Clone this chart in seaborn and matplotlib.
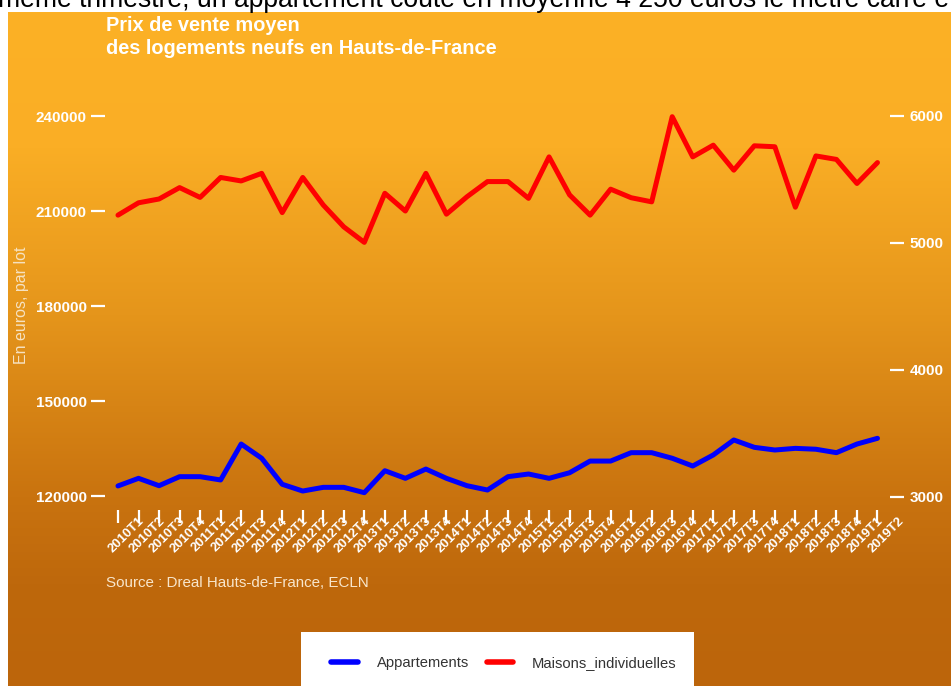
import matplotlib

matplotlib.use("Agg")
import matplotlib.pyplot as plt
import matplotlib.transforms as mtransforms
import numpy as np
import pandas as pd
import seaborn as sns
from matplotlib.colors import LinearSegmentedColormap
from matplotlib.lines import Line2D
from matplotlib.patches import Rectangle


QUARTERS = [
    "2010T1", "2010T2", "2010T3", "2010T4",
    "2011T1", "2011T2", "2011T3", "2011T4",
    "2012T1", "2012T2", "2012T3", "2012T4",
    "2013T1", "2013T2", "2013T3", "2013T4",
    "2014T1", "2014T2", "2014T3", "2014T4",
    "2015T1", "2015T2", "2015T3", "2015T4",
    "2016T1", "2016T2", "2016T3", "2016T4",
    "2017T1", "2017T2", "2017T3", "2017T4",
    "2018T1", "2018T2", "2018T3", "2018T4",
    "2019T1", "2019T2",
]

# prix par lot (axe gauche)
MAISONS = [
    208700, 212600, 213800, 217400, 214300, 220600, 219500, 221900,
    209500, 220600, 211900, 205000, 200100, 215600, 210000, 221900,
    209000, 214500, 219300, 219300, 214000, 227100, 215100, 208700,
    216900, 214200, 212900, 239800, 227100, 230800, 222900, 230600,
    230300, 211200, 227400, 226300, 218700, 225300,
]

# prix au m2 (axe droit)
APPARTEMENTS = [
    3087, 3147, 3089, 3160, 3160, 3134, 3417, 3305, 3100, 3047,
    3076, 3076, 3034, 3207, 3147, 3220, 3147, 3089, 3055, 3160,
    3181, 3147, 3191, 3283, 3283, 3349, 3349, 3305, 3244, 3331,
    3449, 3391, 3370, 3383, 3376, 3349, 3417, 3462,
]

LEFT_TICKS = [120000, 150000, 180000, 210000, 240000]
RIGHT_TICKS = [3000, 4000, 5000, 6000]

W, H = 951, 686


def main() -> None:
    sns.set_theme(style="white")
    plt.rcParams["font.family"] = ["Liberation Sans", "DejaVu Sans"]

    df = pd.DataFrame(
        {
            "idx": np.arange(len(QUARTERS)),
            "trimestre": QUARTERS,
            "Maisons_individuelles": MAISONS,
            "Appartements": APPARTEMENTS,
        }
    )

    fig = plt.figure(figsize=(W / 100, H / 100), dpi=100)
    fig.patch.set_facecolor("white")

    # fond en dégradé orange
    bg = fig.add_axes([8 / W, 0, 1 - 8 / W, 1 - 12 / H])
    bg.set_zorder(-1)
    bg.axis("off")
    cmap = LinearSegmentedColormap.from_list(
        "fond",
        [
            (0.0, "#FCB126"),
            (0.2, "#FAAE25"),
            (0.45, "#E5951B"),
            (0.72, "#C9730F"),
            (0.85, "#BE680C"),
            (1.0, "#BC650B"),
        ],
    )
    grad = np.linspace(0, 1, 256).reshape(-1, 1)
    bg.imshow(grad, aspect="auto", cmap=cmap, extent=[0, 1, 0, 1], origin="upper")

    ax = fig.add_axes([105 / W, (H - 510) / H, 785 / W, 435 / H])
    ax.set_facecolor("none")
    ax2 = ax.twinx()
    ax2.set_facecolor("none")

    sns.lineplot(data=df, x="idx", y="Maisons_individuelles", ax=ax, color="#FF0000", linewidth=3.6, legend=False)
    sns.lineplot(data=df, x="idx", y="Appartements", ax=ax2, color="#0000FF", linewidth=3.6, legend=False)

    ax.set_xlim(-0.633, len(QUARTERS) - 1 + 0.61)
    ax.set_ylim(115580, 252960)
    ax2.set_ylim(2897.6, 6322.8)

    for a in (ax, ax2):
        for side in ["top", "bottom", "left", "right"]:
            a.spines[side].set_visible(False)
        a.grid(False)
        a.set_xlabel("")
        a.set_ylabel("")

    ax.set_yticks(LEFT_TICKS)
    ax.set_yticklabels([str(v) for v in LEFT_TICKS], fontsize=11, fontweight="bold", color="white")
    ax2.set_yticks(RIGHT_TICKS)
    ax2.set_yticklabels([str(v) for v in RIGHT_TICKS], fontsize=11, fontweight="bold", color="white")
    ax.tick_params(axis="y", left=True, length=10, width=1.6, color="white", pad=3)
    ax2.tick_params(axis="y", right=True, length=10, width=1.6, color="white", pad=4)

    ax.set_xticks(df["idx"])
    ax.set_xticklabels(
        QUARTERS, rotation=45, ha="right", va="top", rotation_mode="anchor",
        fontsize=9.5, fontweight="bold", color="white",
    )
    ax.tick_params(axis="x", bottom=True, length=9.5, width=1.6, color="white", pad=-6)
    offset = mtransforms.ScaledTranslation(0.2, 0, fig.dpi_scale_trans)
    for lab in ax.get_xticklabels():
        lab.set_transform(lab.get_transform() + offset)

    ax.set_ylabel("En euros, par lot", color="#F6E2C2", fontsize=11.5)
    ax.yaxis.set_label_coords(-0.0968, 0.471)
    ax2.set_ylabel("En euros, par m²", color="#F6E2C2", fontsize=11.5, rotation=90)
    ax2.yaxis.set_label_coords(1.085, 0.50)

    fig.text(
        106 / W, 1 - 16 / H,
        "Prix de vente moyen\ndes logements neufs en Hauts-de-France",
        ha="left", va="top", fontsize=14.4, fontweight="bold", color="white", linespacing=1.3,
    )
    fig.text(106 / W, 1 - 587 / H, "Source : Dreal Hauts-de-France, ECLN", ha="left", va="baseline", fontsize=10.9, color="#F8E6CC")

    fig.text(
        -2 / W, 1 - 7 / H,
        "même trimestre, un appartement coûte en moyenne 4 250 euros le mètre carré e",
        ha="left", va="baseline", fontsize=19.1, color="black",
    )

    # légende en bas
    fig.patches.append(
        Rectangle((301 / W, 0), 393 / W, 54 / H, transform=fig.transFigure,
                  facecolor="white", edgecolor="none", zorder=2)
    )
    handles = [
        Line2D([], [], color="#0000FF", linewidth=4),
        Line2D([], [], color="#FF0000", linewidth=4),
    ]
    leg = fig.legend(
        handles, ["Appartements", "Maisons_individuelles"],
        loc="center left", bbox_to_anchor=(331 / W, 23 / H), ncol=2, frameon=False,
        fontsize=10.6, handlelength=1.8, handletextpad=1.3, columnspacing=1.2,
        borderpad=0, borderaxespad=0,
    )
    leg.set_zorder(5)
    for t in leg.get_texts():
        t.set_color("#333333")

    fig.savefig("out.png", dpi=100)
    plt.close(fig)


if __name__ == "__main__":
    main()
